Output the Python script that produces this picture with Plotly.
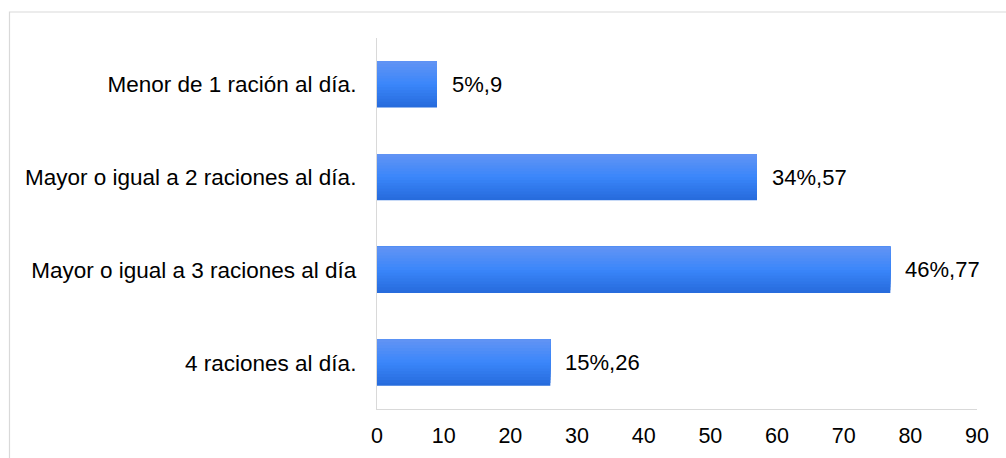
import plotly.graph_objects as go

# Data (bottom to top order on the chart)
categories = [
    "4 raciones al día.",
    "Mayor o igual a 3 raciones al día",
    "Mayor o igual a 2 raciones al día.",
    "Menor de 1 ración al día.",
]
values = [26, 77, 57, 9]
percents = [15, 46, 34, 5]
labels = [f"{p}%,{v}" for p, v in zip(percents, values)]
x_ticks = [0, 10, 20, 30, 40, 50, 60, 70, 80, 90]

FONT = "Liberation Sans, Arial, sans-serif"

def lerp(c1, c2, t):
    return tuple(round(a + (b - a) * t) for a, b in zip(c1, c2))

bottom_c = (0x27, 0x6C, 0xDD)
mid_c = (0x3A, 0x86, 0xFA)
top_c = (0x60, 0x93, 0xF4)

fig = go.Figure()
N = 16
half = 0.25
step = 2 * half / N
for i in range(N):
    t = i / (N - 1)
    if t < 0.5:
        c = lerp(bottom_c, mid_c, t / 0.5)
    else:
        c = lerp(mid_c, top_c, (t - 0.5) / 0.5)
    off = -half + i * step
    fig.add_trace(go.Bar(
        x=values, y=categories, orientation="h",
        offset=off, width=half - off,
        marker=dict(color="rgb(%d,%d,%d)" % c, line=dict(width=0)),
        showlegend=False, hoverinfo="skip" if i < N - 1 else "x+y",
    ))

for v, cat, lab in zip(values, categories, labels):
    fig.add_annotation(x=v, y=cat, text=lab, showarrow=False,
                       xanchor="left", yanchor="middle", xshift=13,
                       font=dict(family=FONT, size=22, color="#000000"))

fig.add_shape(type="rect", xref="paper", yref="paper",
              x0=-0.6125, x1=1.3, y0=-0.5, y1=1.0701,
              line=dict(color="#d9d9d9", width=1.2), fillcolor="rgba(0,0,0,0)",
              layer="below")

fig.update_layout(
    width=1006, height=458,
    margin=dict(l=377, r=29, t=38, b=49, autoexpand=False),
    paper_bgcolor="white", plot_bgcolor="white",
    barmode="overlay",
    font=dict(family=FONT, size=22, color="#000000"),
    xaxis=dict(range=[0, 90], tickvals=x_ticks, showgrid=False, zeroline=False,
               showline=True, linecolor="#d9d9d9", linewidth=1.2,
               ticks="", ticklabelstandoff=7, automargin=False,
               tickfont=dict(family=FONT, size=21.5, color="#000000")),
    yaxis=dict(categoryorder="array", categoryarray=categories,
               showgrid=False, zeroline=False,
               showline=True, linecolor="#d9d9d9", linewidth=1.2,
               ticks="", ticklabelstandoff=15, automargin=False,
               tickfont=dict(family=FONT, size=22.5, color="#000000")),
)

fig.write_html(
    "out.html",
    config={"displayModeBar": False},
    post_script="document.body.style.margin='0';document.body.style.overflow='hidden';",
)
